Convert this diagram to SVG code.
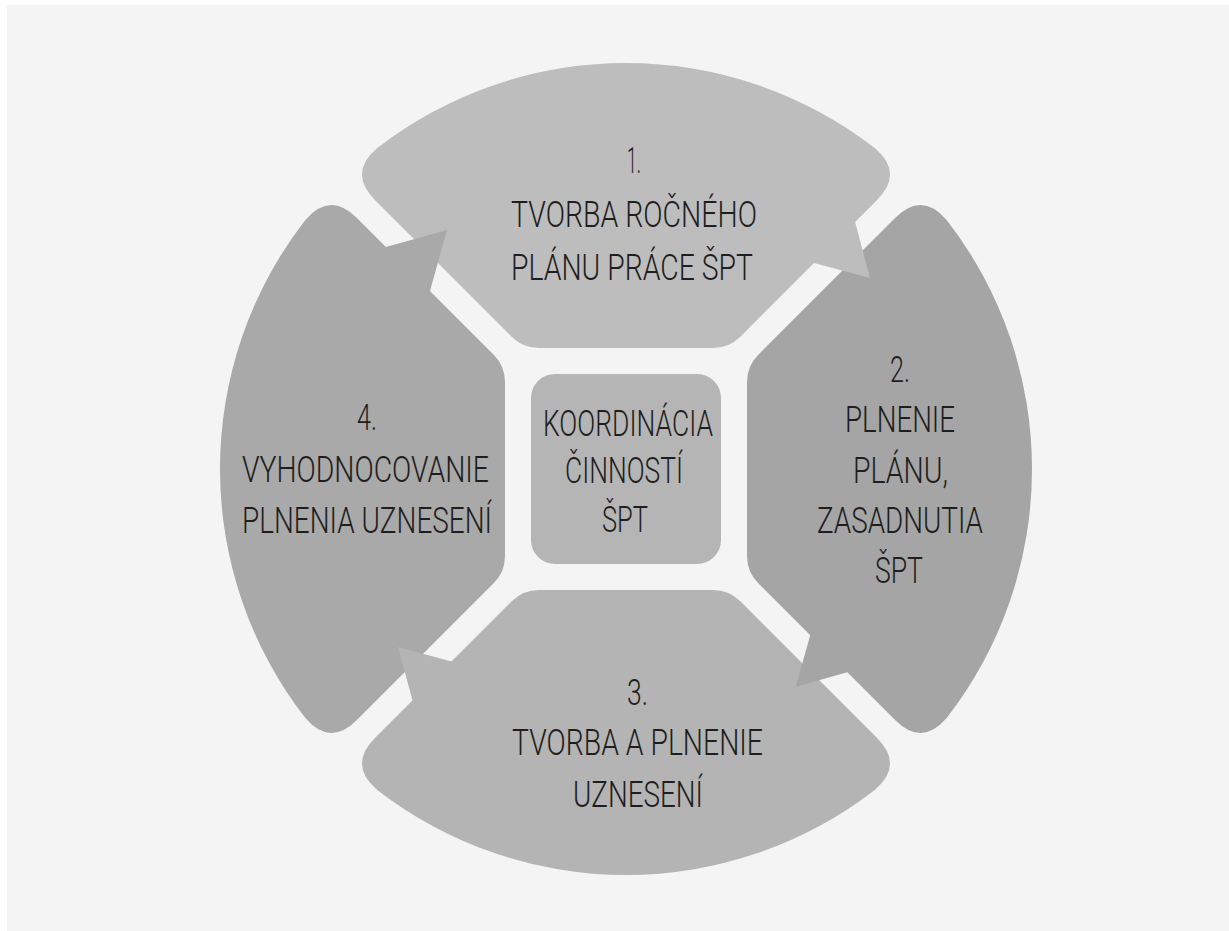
<svg xmlns="http://www.w3.org/2000/svg" width="1229" height="931" viewBox="0 0 1229 931">
<style>
.t{font-family:Roboto,"Liberation Sans",Arial,sans-serif;font-weight:300;font-size:37px;fill:#1e1e1e}
.c1{fill:#bdbdbd}.c2{fill:#a5a5a5}.c3{fill:#b4b4b4}.c4{fill:#a9a9a9}.c0{fill:#b5b5b5}
</style>
<defs>
<path id="seg" d="M -249.06 -320.63 A 406 406 0 0 1 249.06 -320.63 Q 277.95 -295.95 251.08 -269.08 L 114.31 -132.31 Q 103 -121 87 -121 L -87 -121 Q -103 -121 -114.31 -132.31 L -251.08 -269.08 Q -277.95 -295.95 -249.06 -320.63 Z"/>
</defs>
<rect width="1229" height="931" fill="#ffffff"/>
<rect x="7" y="5" width="1222" height="926" fill="#f4f4f4"/>
<g id="node1">
<use href="#seg" class="c1" transform="translate(626 469)"/>
<text class="t" x="627" y="173" textLength="14" lengthAdjust="spacingAndGlyphs">1.</text>
<text class="t" x="511" y="227" textLength="246" lengthAdjust="spacingAndGlyphs">TVORBA ROČNÉHO</text>
<text class="t" x="511" y="280" textLength="242" lengthAdjust="spacingAndGlyphs">PLÁNU PRÁCE ŠPT</text>
</g>
<g id="node2">
<use href="#seg" class="c2" transform="translate(626 469) rotate(90)"/>
<text class="t" x="890" y="382" textLength="20" lengthAdjust="spacingAndGlyphs">2.</text>
<text class="t" x="845" y="432" textLength="110" lengthAdjust="spacingAndGlyphs">PLNENIE</text>
<text class="t" x="853" y="483" textLength="95" lengthAdjust="spacingAndGlyphs">PLÁNU,</text>
<text class="t" x="817" y="533" textLength="166" lengthAdjust="spacingAndGlyphs">ZASADNUTIA</text>
<text class="t" x="875" y="583" textLength="48" lengthAdjust="spacingAndGlyphs">ŠPT</text>
</g>
<g id="node3">
<use href="#seg" class="c3" transform="translate(626 469) rotate(180)"/>
<text class="t" x="627" y="705" textLength="21" lengthAdjust="spacingAndGlyphs">3.</text>
<text class="t" x="512" y="755" textLength="251" lengthAdjust="spacingAndGlyphs">TVORBA A PLNENIE</text>
<text class="t" x="573" y="807" textLength="130" lengthAdjust="spacingAndGlyphs">UZNESENÍ</text>
</g>
<g id="node4">
<use href="#seg" class="c4" transform="translate(626 469) rotate(270)"/>
<text class="t" x="357" y="430" textLength="20" lengthAdjust="spacingAndGlyphs">4.</text>
<text class="t" x="242" y="482" textLength="247" lengthAdjust="spacingAndGlyphs">VYHODNOCOVANIE</text>
<text class="t" x="242" y="533" textLength="250" lengthAdjust="spacingAndGlyphs">PLNENIA UZNESENÍ</text>
</g>
<g id="node0">
<rect class="c0" x="531" y="374" width="190" height="190" rx="24"/>
<text class="t" x="543" y="436" textLength="170" lengthAdjust="spacingAndGlyphs">KOORDINÁCIA</text>
<text class="t" x="565" y="483" textLength="118" lengthAdjust="spacingAndGlyphs">ČINNOSTÍ</text>
<text class="t" x="602" y="532" textLength="46" lengthAdjust="spacingAndGlyphs">ŠPT</text>
</g>
<g id="connectors">
<path class="c1" d="M 810.3 262.1 L 870 278 L 854.1 218.3 Z"/>
<path class="c2" d="M 811.3 631.6 L 795.7 686.8 L 850.9 671.2 Z"/>
<path class="c3" d="M 455.2 662.4 L 398 646.9 L 413.5 704.1 Z"/>
<path class="c4" d="M 429 294.6 L 447 230 L 382.3 248 Z"/>
</g>
</svg>
